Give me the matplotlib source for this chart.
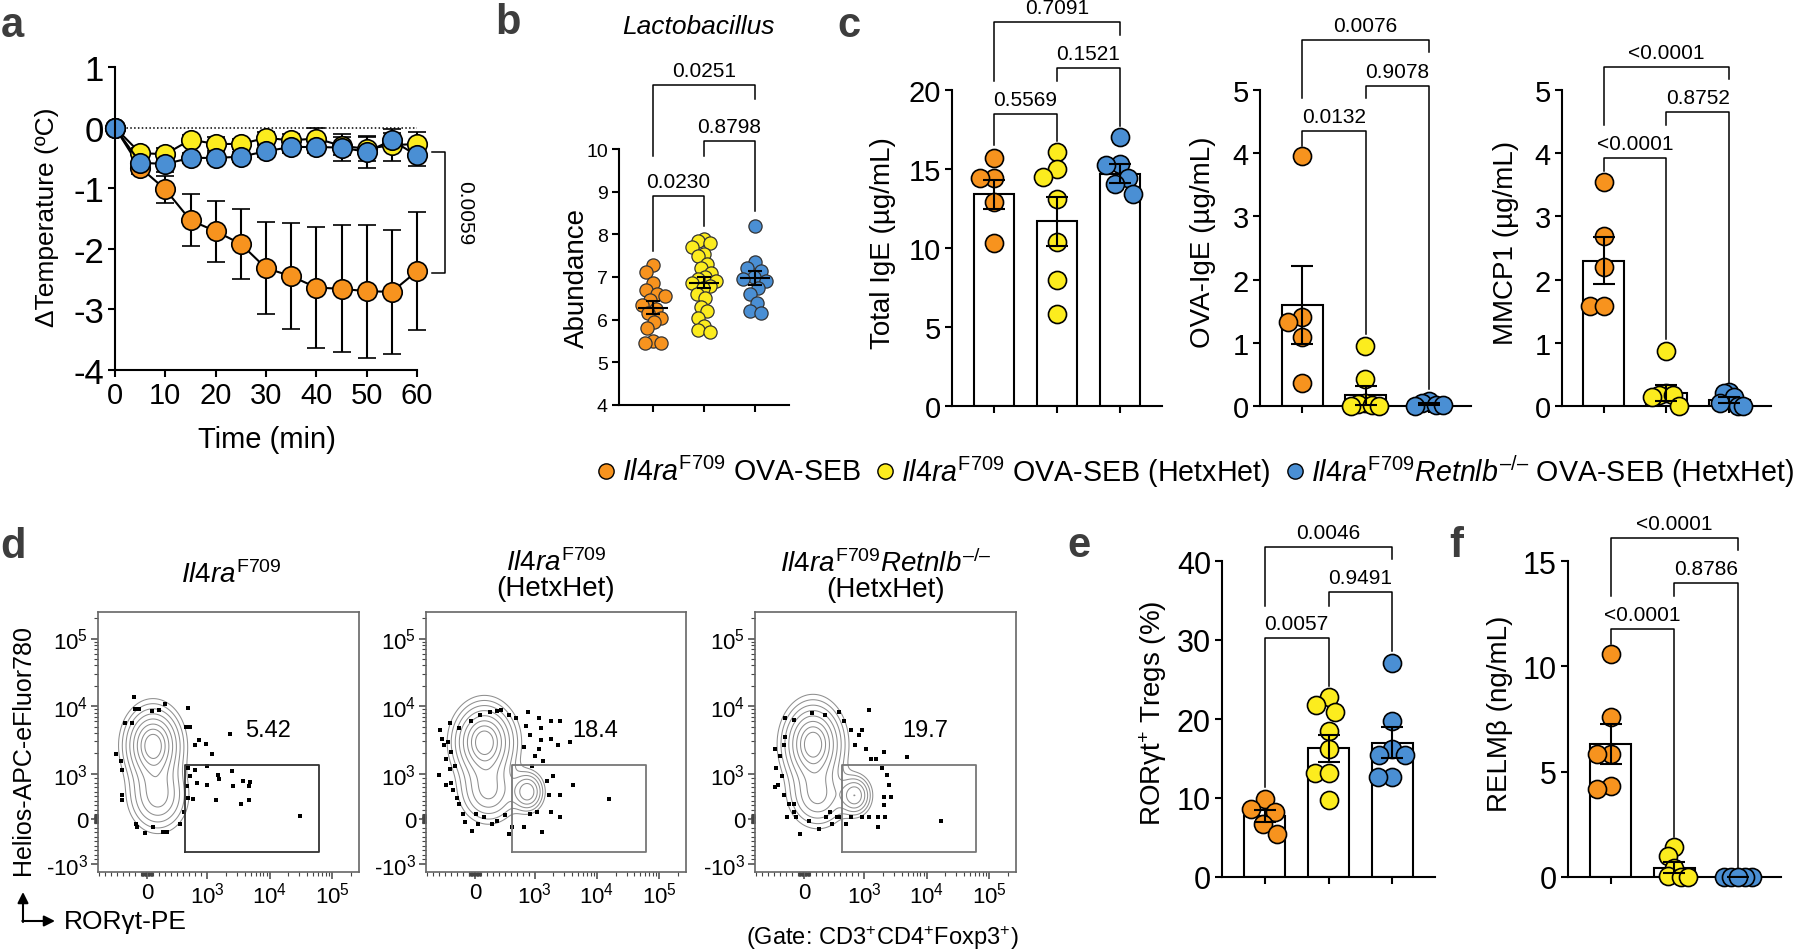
import numpy as np
import matplotlib
matplotlib.use("Agg")
import matplotlib.pyplot as plt
from matplotlib import font_manager
from matplotlib.ticker import FixedLocator, NullFormatter

# ---------------- data ----------------
orange, yellow, blue = "#F7931E", "#FCEC1E", "#4A8FD4"

# a: temperature drop
time = [0, 5, 10, 15, 20, 25, 30, 35, 40, 45, 50, 55, 60]
temp_orange = [0, -0.66, -1.02, -1.53, -1.71, -1.92, -2.32, -2.45, -2.64, -2.66, -2.70, -2.71, -2.37]
sd_orange = [0, 0.10, 0.22, 0.43, 0.50, 0.58, 0.76, 0.88, 1.0, 1.05, 1.1, 1.02, 0.97]
temp_yellow = [0, -0.42, -0.44, -0.20, -0.27, -0.27, -0.17, -0.21, -0.18, -0.30, -0.35, -0.29, -0.27]
sd_yellow = [0, 0.08, 0.10, 0.08, 0.12, 0.08, 0.10, 0.10, 0.18, 0.15, 0.20, 0.26, 0.20]
temp_blue = [0, -0.58, -0.60, -0.50, -0.50, -0.48, -0.39, -0.32, -0.32, -0.33, -0.40, -0.21, -0.46]
sd_blue = [0, 0.08, 0.13, 0.08, 0.08, 0.08, 0.10, 0.10, 0.10, 0.22, 0.26, 0.12, 0.18]

# b: Lactobacillus abundance
lacto_orange = [7.27, 7.12, 6.85, 6.7, 6.6, 6.55, 6.45, 6.35, 6.25, 6.15, 6.05, 5.95, 5.8, 5.5, 5.45, 5.45]
lacto_yellow = [7.88, 7.85, 7.8, 7.7, 7.55, 7.5, 7.3, 7.2, 7.1, 7.0, 6.95, 6.9, 6.85, 6.8,
                6.75, 6.6, 6.5, 6.3, 6.2, 6.05, 5.85, 5.75, 5.72]
lacto_blue = [8.2, 7.35, 7.2, 7.15, 7.0, 6.95, 6.9, 6.75, 6.6, 6.4, 6.2, 6.15]
lacto_mean = [6.28, 6.87, 6.98]
lacto_sem = [0.15, 0.12, 0.16]

# c: serum measurements
ige_pts = [[15.7, 14.4, 14.4, 12.9, 10.3],
           [16.1, 15.0, 14.5, 13.1, 10.4, 8.0, 5.8],
           [17.0, 15.3, 15.25, 14.4, 14.05, 13.4]]
ige_mean = [13.4, 11.7, 14.7]
ige_sem = [0.9, 1.55, 0.6]
ova_pts = [[3.96, 1.41, 1.33, 1.09, 0.37],
           [0.95, 0.43, 0.05, 0.03, 0.02, 0.0, 0.0],
           [0.08, 0.05, 0.02, 0.01, 0.0]]
ova_mean = [1.6, 0.17, 0.03]
ova_sem = [0.62, 0.15, 0.02]
mmcp_pts = [[3.54, 2.69, 2.2, 1.58, 1.58],
            [0.87, 0.2, 0.18, 0.17, 0.15, 0.0],
            [0.22, 0.2, 0.15, 0.05, 0.0, 0.0]]
mmcp_mean = [2.3, 0.21, 0.1]
mmcp_sem = [0.37, 0.13, 0.05]

# e, f
treg_pts = [[9.9, 8.6, 8.2, 6.7, 5.5],
            [22.8, 21.8, 20.9, 18.5, 16.2, 13.2, 13.2, 9.7],
            [27.1, 19.7, 16.2, 15.5, 15.4, 12.7, 12.7]]
treg_mean = [7.7, 16.3, 17.0]
treg_sem = [0.8, 1.7, 1.95]
relm_pts = [[10.6, 7.6, 5.85, 5.85, 4.3, 4.2],
            [1.42, 1.0, 0.45, 0.05, 0.02, 0.0],
            [0.0, 0.0, 0.0, 0.0, 0.0]]
relm_mean = [6.3, 0.45, 0.0]
relm_sem = [0.95, 0.25, 0.0]

# significance brackets: (group1, group2, bar height, left end, right end, p)
br_b = [(0, 1, 8.9, 7.6, 8.2, "0.0230"), (1, 2, 10.18, 9.83, 8.54, "0.8798"),
        (0, 2, 11.49, 9.83, 11.17, "0.0251")]
br_ige = [(0, 1, 18.5, 16.5, 16.8, "0.5569"), (1, 2, 21.4, 20.6, 17.7, "0.1521"),
          (0, 2, 24.3, 20.6, 23.5, "0.7091")]
br_ova = [(0, 1, 4.35, 4.11, 1.14, "0.0132"), (1, 2, 5.06, 4.87, 0.27, "0.9078"),
          (0, 2, 5.79, 4.87, 5.6, "0.0076")]
br_mmcp = [(0, 1, 3.92, 3.72, 1.06, "<0.0001"), (1, 2, 4.65, 4.45, 0.27, "0.8752"),
           (0, 2, 5.37, 4.45, 5.17, "<0.0001")]
br_treg = [(0, 1, 30.3, 11.4, 24.2, "0.0057"), (1, 2, 36.1, 34.3, 28.6, "0.9491"),
           (0, 2, 41.8, 34.3, 40.3, "0.0046")]
br_relm = [(0, 1, 11.77, 11.06, 1.9, "<0.0001"), (1, 2, 13.95, 13.34, 0.3, "0.8786"),
           (0, 2, 16.1, 13.34, 15.5, "<0.0001")]

# d: flow cytometry (RORgt-PE, Helios) -- population centres / spreads (decades) / weights
pops1 = [(100, 2650, 0.24, 0.30, 1.0), (180, 500, 0.25, 0.28, 0.5)]
pops2 = [(160, 2950, 0.26, 0.30, 1.0), (230, 600, 0.25, 0.25, 0.45), (883, 600, 0.14, 0.16, 0.55)]
pops3 = [(150, 2750, 0.25, 0.32, 1.0), (230, 500, 0.25, 0.25, 0.45), (850, 520, 0.14, 0.16, 0.55)]
ev1_x = [-217, -205, -142, 88, 197, 305, 690, -359, -250, 645, 720, 867, 803, 975, 1190, 2300,
         -524, -434, -409, 676, 803, 995, 708, 835, 995, 1500, 1560, 2470, 2650, 3770, 4900, 4780,
         663, 676, 772, 1390, 3500, 4650, -409, -422, -185, -167, -38, 100, 260, 334, 613, 31000, 550]
ev1_y = [13700, 9000, 9000, 8400, 8700, 10700, 9300, 5700, 5700, 5000, 5000, 3160, 2650, 2750,
         1940, 3900, 1940, 1570, 1150, 1230, 1150, 1320, 955, 795, 750, 980, 885, 1110, 727, 840,
         818, 727, 727, 455, 432, 410, 340, 410, 522, 410, -113, -182, -318, -182, -295, -295,
         160, 68, -113]
ev2_x = [-583, -550, -519, -454, -596, -488, -422, -391, -359, -296, -488, -264, -200, -167, -40,
         25, 152, 280, 375, 503, 630, 822, 917, 1100, 1330, 1810, 2580, 1690, 1570, 1940, 2580,
         4200, 2400, 1810, 1270, 1180, 1030, 1360, 950, 822, 855, 917, 1180, 1270, 1810, 2580,
         3660, 883, 438, 88, -72, -264, -422, -391, -327, 57, 568, 15800, 248, 375, 568, 693]
ev2_y = [4370, 3300, 2620, 2950, 980, 1650, 1160, 795, 642, 455, 757, 340, 113, -75, -266, 113,
         38, -113, -38, 75, -188, -188, 113, 152, -302, 152, 38, 530, 833, 948, 530, 757, 2620,
         3300, 3120, 2340, 1850, 1560, 1310, 2480, 5150, 3800, 6600, 4690, 5950, 5950, 2950,
         8230, 8710, 7300, 5950, 4690, 5600, 2080, 1310, -113, -341, 432, 8230, 8400, 7300, 6600]
ev3_x = [-310, -162, -310, -340, -490, -400, -472, -370, -430, -490, -340, -252, -162, -73, -134,
         77, 255, 374, 464, 553, 701, 791, 970, 1220, 1690, 1690, 2050, 2670, 2500, 2340, 1930,
         1580, 1070, 1300, 910, 790, 850, 970, 670, 583, 135, 343, 1220, 2050, 4800, 16900,
         -282, -162, 2050, 2200, 434, 583]
ev3_y = [6600, 6270, 3500, 2620, 2340, 1850, 1230, 948, 757, 700, 530, 340, 152, -341, 38, -38,
         -227, 38, -113, 38, -113, 38, 38, 38, -188, 38, 302, 493, 757, 980, 1230, 1650, 2340,
         1650, 3720, 4370, 2620, 4370, 5950, 8230, 7900, 7300, 8710, 2080, 1740, -38, 38, 340,
         493, 38, 152, 38]
gate_x = [630, 61000]
gate_y = [-740, 1370]
gate_pct = ["5.42", "18.4", "19.7"]

# ---------------- style ----------------
names = {f.name for f in font_manager.fontManager.ttflist}
narrow = "Liberation Sans Narrow" if "Liberation Sans Narrow" in names else "Liberation Sans"

plt.rcParams.update({
    "font.family": ["Liberation Sans", "DejaVu Sans"],
    "mathtext.fontset": "custom",
    "mathtext.rm": "Liberation Sans",
    "mathtext.it": "Liberation Sans:italic",
    "mathtext.bf": "Liberation Sans:bold",
    "mathtext.default": "regular",
    "axes.unicode_minus": False,
    "axes.linewidth": 1.5,
})

W, H = 1800, 953
fig = plt.figure(figsize=(18, 9.53), dpi=100)


def box(l, r, t, b):
    return [l / W, 1 - b / H, (r - l) / W, (b - t) / H]


def style(ax, fs):
    ax.spines["top"].set_visible(False)
    ax.spines["right"].set_visible(False)
    ax.tick_params(labelsize=fs, length=5, width=1.5, pad=3)


def swarm_x(ax, xc, vals, diam, limit):
    tr = ax.transData
    cx = tr.transform((xc, 0))[0]
    ys = [tr.transform((xc, v))[1] for v in vals]
    offs = np.zeros(len(vals))
    placed = []
    for i in np.argsort(ys)[::-1]:
        y = ys[i]
        iv = []
        for ox, oy in placed:
            dy = abs(oy - y)
            if dy < diam:
                dx = np.sqrt(diam ** 2 - dy ** 2)
                iv.append((ox - dx, ox + dx))
        cands = sorted([0.0] + [e for p in iv for e in p], key=lambda c: (abs(c), c))
        for c in cands:
            if all(c <= lo + 1e-6 or c >= hi - 1e-6 for lo, hi in iv):
                break
        offs[i] = c
        placed.append((c, y))
    m = np.abs(offs).max()
    if m > limit:
        offs *= limit / m
    inv = tr.inverted()
    return [inv.transform((cx + o, y))[0] for o, y in zip(offs, ys)]


def brackets(ax, items):
    for x1, x2, yb, yl, yr, lab in items:
        ax.plot([x1, x1, x2, x2], [yl, yb, yb, yr], color="k", lw=1.1, clip_on=False)
        ax.annotate(lab, ((x1 + x2) / 2, yb), xytext=(0, 10.5), textcoords="offset points",
                    ha="center", va="center", fontsize=15, annotation_clip=False)


def bar_panel(rect, pts, means, sems, ylim, yticks, ylabel, lab_x, br, ms=13, fs=21):
    ax = fig.add_axes(rect)
    style(ax, fs)
    ax.set_xlim(-0.667, 2.667)
    ax.set_ylim(*ylim)
    ax.set_yticks(yticks)
    ax.set_xticks([0, 1, 2], ["", "", ""])
    ax.bar([0, 1, 2], means, width=0.65, color="white", edgecolor="k", lw=1.5, zorder=1)
    for i, (vals, col) in enumerate(zip(pts, [orange, yellow, blue])):
        xs = swarm_x(ax, i, vals, ms * 1.389 * 0.95, 14)
        ax.plot(xs, vals, "o", ms=ms, mfc=col, mec="k", mew=1.2, clip_on=False, zorder=3)
    ax.errorbar([0, 1, 2], means, yerr=sems, fmt="none", ecolor="k", elinewidth=1.5,
                capsize=8, capthick=1.5, zorder=4)
    ax.set_ylabel(ylabel, fontsize=20, va="center")
    ax.yaxis.set_label_coords(lab_x, 0.52)
    brackets(ax, br)
    return ax


# ---------------- a ----------------
ax_a = fig.add_axes(box(115, 417, 68, 371))
style(ax_a, 25)
ax_a.axhline(0, color="k", ls=(0, (1, 1.5)), lw=1.1, zorder=0)
for mean, sd, col in [(temp_orange, sd_orange, orange), (temp_yellow, sd_yellow, yellow),
                      (temp_blue, sd_blue, blue)]:
    cont = ax_a.errorbar(time, mean, yerr=sd, fmt="-o", color="k", lw=1.5, ms=14, mfc=col,
                         mec="k", mew=1.2, capsize=6.5, capthick=1.5, elinewidth=1.5)
    for art in cont.get_children():
        art.set_clip_on(False)
ax_a.set_xlim(0, 60)
ax_a.set_ylim(-4, 1)
ax_a.set_yticks(range(-4, 2))
ax_a.set_xticks(range(0, 61, 10), [str(t) for t in range(0, 61, 10)], fontfamily=narrow, fontsize=21)
ax_a.set_ylabel("\u0394Temperature (\u00baC)", fontsize=19, va="center")
ax_a.yaxis.set_label_coords(-0.225, 0.508)
ax_a.set_xlabel("Time (min)", fontsize=21, va="center", fontfamily=narrow)
ax_a.xaxis.set_label_coords(0.503, -0.228)
ax_a.plot([63, 65.6, 65.6, 63], [-0.4, -0.4, -2.4, -2.4], color="k", lw=1.1, clip_on=False)
ax_a.text(69.5, -1.4, "0.0059", rotation=270, ha="center", va="center", fontsize=15)

# ---------------- b ----------------
ax_b = fig.add_axes(box(619, 789, 150, 406))
style(ax_b, 14)
ax_b.set_xlim(-0.667, 2.667)
ax_b.set_ylim(4, 10)
ax_b.set_yticks(range(4, 11))
ax_b.set_xticks([0, 1, 2], ["", "", ""])
for i, (vals, col) in enumerate(zip([lacto_orange, lacto_yellow, lacto_blue], [orange, yellow, blue])):
    xs = swarm_x(ax_b, i, vals, 12, 12)
    ax_b.plot(xs, vals, "o", ms=9.5, mfc=col, mec="#333333", mew=0.9, zorder=3)
ax_b.hlines(lacto_mean, [-0.3, 0.7, 1.7], [0.3, 1.3, 2.3], color="k", lw=1.5, zorder=4)
ax_b.errorbar([0, 1, 2], lacto_mean, yerr=lacto_sem, fmt="none", ecolor="k", elinewidth=1.5,
              capsize=4.7, capthick=1.5, zorder=4)
ax_b.set_ylabel("Abundance", fontsize=20, va="center")
ax_b.yaxis.set_label_coords(-0.247, 0.5)
brackets(ax_b, br_b)

# ---------------- c ----------------
bar_panel(box(952, 1162, 91, 407), ige_pts, ige_mean, ige_sem, (0, 20), range(0, 21, 5),
          "Total IgE (\u00b5g/mL)", -0.33, br_ige)
bar_panel(box(1260, 1471, 91, 407), ova_pts, ova_mean, ova_sem, (0, 5), range(0, 6),
          "OVA-IgE (\u00b5g/mL)", -0.27, br_ova)
bar_panel(box(1562, 1771, 91, 407), mmcp_pts, mmcp_mean, mmcp_sem, (0, 5), range(0, 6),
          "MMCP1 (\u00b5g/mL)", -0.268, br_mmcp)

# ---------------- e, f ----------------
bar_panel(box(1222, 1435, 562, 878), treg_pts, treg_mean, treg_sem, (0, 40), range(0, 41, 10),
          "ROR\u03b3t$^{+}$ Tregs (%)", -0.324, br_treg, fs=22)
bar_panel(box(1568, 1781, 562, 878), relm_pts, relm_mean, relm_sem, (0, 15), range(0, 16, 5),
          "RELM\u03b2 (ng/mL)", -0.319, br_relm, fs=22)

# ---------------- d: flow plots ----------------
minor = [v * s for s in (-1, 1) for v in list(range(10, 100, 10)) + list(range(100, 1000, 100))]
minor += [m * 10 ** k for k in (3, 4) for m in range(2, 10)] + [2e5]
ring_r = np.linspace(2.3, 0.55, 8)          # contour radii in sigma units
levels_frac = np.exp(-ring_r ** 2 / 2)
flow_sets = [(98, 359, pops1, ev1_x, ev1_y, "#333333"),
             (426, 686, pops2, ev2_x, ev2_y, "#777777"),
             (755, 1016, pops3, ev3_x, ev3_y, "#777777")]
for k, (l, r, pops, ex, ey, gcol) in enumerate(flow_sets):
    ax = fig.add_axes(box(l, r, 613, 873))
    ax.set_xscale("symlog", linthresh=1000, linscale=0.864)
    ax.set_yscale("symlog", linthresh=1000, linscale=0.6)
    ax.set_xlim(-817, 2.7e5)
    ax.set_ylim(-1318, 2.47e5)
    tx = ax.xaxis.get_transform()
    ty = ax.yaxis.get_transform()
    gx = np.linspace(*tx.transform_non_affine(np.array([-817.0, 2.7e5])), 320)
    gy = np.linspace(*ty.transform_non_affine(np.array([-1318.0, 2.47e5])), 320)
    GX, GY = np.meshgrid(gx, gy)
    Z = np.zeros_like(GX)
    for cx, cy, sx, sy, w in pops:
        tcx = tx.transform_non_affine(np.array([float(cx)]))[0]
        tcy = ty.transform_non_affine(np.array([float(cy)]))[0]
        Z += w * np.exp(-((GX - tcx) ** 2 / (2 * (sx * 1000) ** 2) + (GY - tcy) ** 2 / (2 * (sy * 1000) ** 2)))
    XD = tx.inverted().transform_non_affine(gx)
    YD = ty.inverted().transform_non_affine(gy)
    ax.contour(XD, YD, Z, levels=levels_frac * Z.max(), colors="#8f8f8f", linewidths=0.75)
    ax.plot(ex, ey, "s", ms=2.8, color="k", mew=0)
    ax.plot([gate_x[0], gate_x[1], gate_x[1], gate_x[0], gate_x[0]],
            [gate_y[0], gate_y[0], gate_y[1], gate_y[1], gate_y[0]], color=gcol, lw=1.3)
    ax.text(9500, 4500, gate_pct[k], ha="center", va="center", fontsize=17)
    ax.set_xticks([0, 1e3, 1e4, 1e5], ["0", "$10^{3}$", "$10^{4}$", "$10^{5}$"])
    ax.set_yticks([-1e3, 0, 1e3, 1e4, 1e5], ["-$10^{3}$", "0", "$10^{3}$", "$10^{4}$", "$10^{5}$"])
    ax.xaxis.set_minor_locator(FixedLocator(minor))
    ax.yaxis.set_minor_locator(FixedLocator(minor))
    ax.xaxis.set_minor_formatter(NullFormatter())
    ax.yaxis.set_minor_formatter(NullFormatter())
    ax.tick_params(which="major", labelsize=16, length=5, width=1.1, color="#444444", pad=2)
    ax.tick_params(which="minor", length=3, width=0.8, color="#444444")
    for s in ax.spines.values():
        s.set_color("#666666")
        s.set_linewidth(1.2)

# ---------------- free text / legend ----------------
ann = fig.add_axes([0, 0, 1, 1])
ann.set_xlim(0, W)
ann.set_ylim(H, 0)
ann.axis("off")
ann.patch.set_visible(False)

letter_kw = dict(fontsize=30, fontweight="bold", color="#3d3d3d", ha="left", va="baseline")
for txt, x, y in [("a", 1, 37), ("b", 495, 34), ("c", 837, 37), ("d", 0, 558),
                  ("e", 1067, 557), ("f", 1449, 557)]:
    ann.text(x, y, txt, **letter_kw)

ann.text(698, 27, "Lactobacillus", fontsize=19, fontstyle="italic", ha="center", va="center")

dash = "\u2013"
il4 = r"$\mathit{Il4ra}^{\mathrm{F709}}$"
retn = r"$\mathit{Il4ra}^{\mathrm{F709}}\mathit{Retnlb}^{\mathrm{" + dash + "/" + dash + "}}$"
leg = [(orange, il4 + " OVA-SEB"), (yellow, il4 + " OVA-SEB (HetxHet)"),
       (blue, retn + " OVA-SEB (HetxHet)")]
renderer = fig.canvas.get_renderer()
lx = 606
for col, txt in leg:
    ann.plot(lx, 472, "o", ms=11, mfc=col, mec="k", mew=1.0)
    t = ann.text(lx + 16, 472, txt, fontsize=20.6, ha="left", va="center")
    lx = t.get_window_extent(renderer).x1 + 24

ann.text(231, 575, il4, fontsize=20, ha="center", va="center")
ann.text(556, 576, il4 + "\n(HetxHet)", fontsize=20, ha="center", va="center", linespacing=0.95)
ann.text(886, 576, retn + "\n(HetxHet)", fontsize=20, ha="center", va="center", linespacing=0.95)
ann.text(23, 750, "Helios-APC-eFluor780", fontsize=18, rotation=90, ha="center", va="center")
ann.text(64, 922, "ROR\u03b3t-PE", fontsize=19, ha="left", va="center")
arrow = dict(arrowstyle="-|>", color="k", lw=1.5, mutation_scale=16, shrinkA=0, shrinkB=0)
ann.annotate("", xy=(23, 893), xytext=(23, 923), arrowprops=arrow)
ann.annotate("", xy=(55, 922), xytext=(22.3, 922), arrowprops=arrow)
ann.text(882, 938, "(Gate: CD3$^{+}$CD4$^{+}$Foxp3$^{+}$)", fontsize=17, ha="center", va="center")

fig.savefig("out.png", dpi=100)
